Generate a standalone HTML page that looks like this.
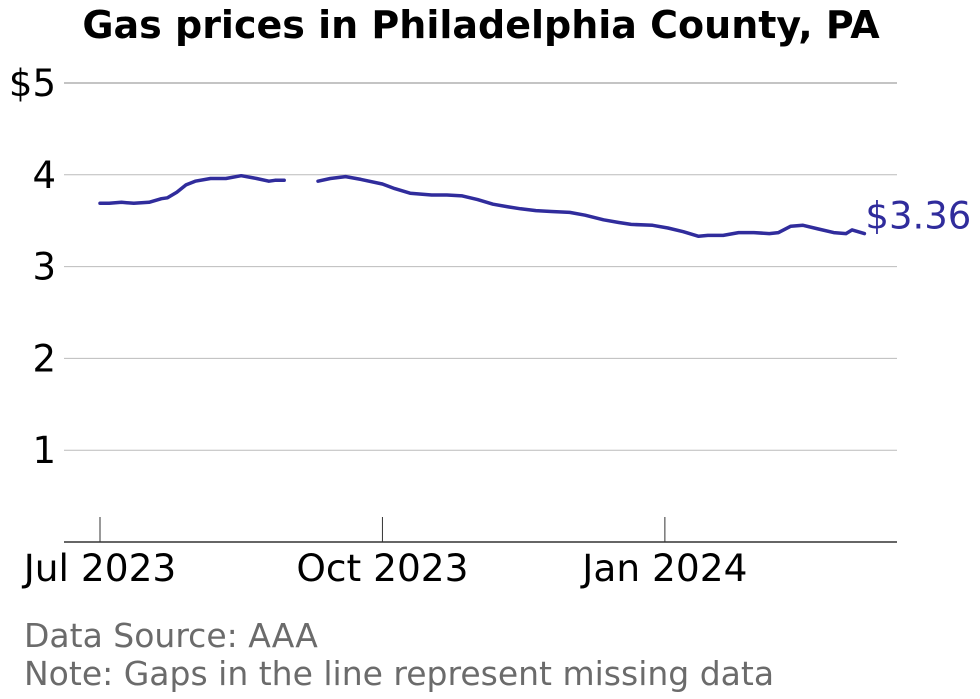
<!DOCTYPE html>
<html><head><meta charset="utf-8"><style>
body{margin:0;background:#fff;width:980px;height:699px;overflow:hidden;font-family:"DejaVu Sans","Liberation Sans",sans-serif}
svg{display:block}
</style></head><body>
<svg width="980" height="699">
<text x="481" y="38" text-anchor="middle" font-weight="bold" font-size="38">Gas prices in Philadelphia County, PA</text>
<g id="grid"></g>
<g id="yt"></g>
<line x1="64" x2="897" y1="542" y2="542" stroke="#333" stroke-width="1.5"/>
<g id="xt"></g>
<path id="line" fill="none" stroke="#302c9c" stroke-width="3.5" stroke-linejoin="round" stroke-linecap="round"/>
<text id="endlbl" font-size="37" fill="#302c9c"></text>
<text x="24" y="647" font-size="33" fill="#6b6b6b">Data Source: AAA</text>
<text x="24" y="685" font-size="33" fill="#6b6b6b">Note: Gaps in the line represent missing data</text>
</svg>
<script>
const days=[0,3,7,11,16,20,22,25,28,31,36,41,46,51,55,57,60,null,71,75,80,85,92,96,101,108,113,118,123,128,133,137,142,147,153,158,164,169,173,180,185,190,195,198,203,208,213,218,221,225,229,234,239,243,245,249];
const prices=[3.69,3.69,3.70,3.69,3.70,3.74,3.75,3.81,3.89,3.93,3.96,3.96,3.99,3.96,3.93,3.94,3.94,null,3.93,3.96,3.98,3.95,3.90,3.85,3.80,3.78,3.78,3.77,3.73,3.68,3.65,3.63,3.61,3.60,3.59,3.56,3.51,3.48,3.46,3.45,3.42,3.38,3.33,3.34,3.34,3.37,3.37,3.36,3.37,3.44,3.45,3.41,3.37,3.36,3.40,3.36];
const yTicks=[1,2,3,4,5];
const yTickLabels=["1","2","3","4","$5"];
const xTickDays=[0,92,184];
const xTickLabels=["Jul 2023","Oct 2023","Jan 2024"];
const NS="http://www.w3.org/2000/svg";
const X=d=>100+d*3.07, Y=p=>542-p*91.8;
const grid=document.getElementById('grid'),yt=document.getElementById('yt'),xt=document.getElementById('xt');
yTicks.forEach((v,i)=>{
 const l=document.createElementNS(NS,'line');
 
 
 l.setAttribute('x1',64);l.setAttribute('x2',897);l.setAttribute('y1',Y(v));l.setAttribute('y2',Y(v));
 l.setAttribute('stroke',v==5?'#888':'#bbb');l.setAttribute('stroke-width','1');
 grid.appendChild(l);
 const t=document.createElementNS(NS,'text');
 
 
 t.setAttribute('x',56);t.setAttribute('y',Y(v)+13);t.setAttribute('text-anchor','end');t.setAttribute('font-size','37');
 t.textContent=yTickLabels[i];yt.appendChild(t);
});
xTickDays.forEach((d,i)=>{
 const l=document.createElementNS(NS,'line');
 
 
 l.setAttribute('x1',X(d));l.setAttribute('x2',X(d));l.setAttribute('y1',517);l.setAttribute('y2',542);
 l.setAttribute('stroke','#333');xt.appendChild(l);
 const t=document.createElementNS(NS,'text');
 
 
 t.setAttribute('x',X(d));t.setAttribute('y',581);t.setAttribute('text-anchor','middle');t.setAttribute('font-size','37.5');
 t.textContent=xTickLabels[i];xt.appendChild(t);
});
let dstr='',pen=false;
days.forEach((d,i)=>{
 if(d===null||prices[i]===null){pen=false;return;}
 dstr+=(pen?'L':'M')+X(d).toFixed(1)+','+Y(prices[i]).toFixed(1);pen=true;
});
document.getElementById('line').setAttribute('d',dstr);
const last=prices[prices.length-1],lastD=days[days.length-1];
const el=document.getElementById('endlbl');
el.setAttribute('x',X(lastD)+1);el.setAttribute('y',Y(last)-5);el.textContent='$'+last.toFixed(2);
</script>
</body></html>
